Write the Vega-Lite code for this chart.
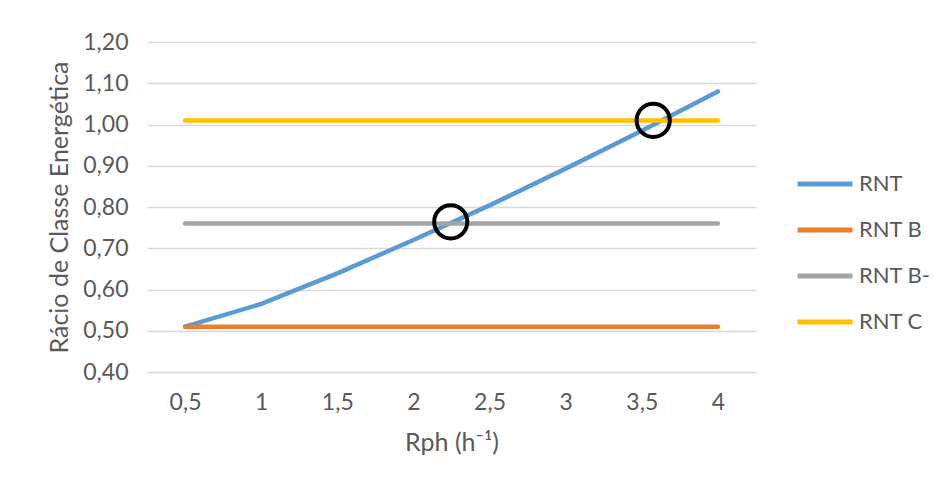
{
  "$schema": "https://vega.github.io/schema/vega-lite/v6.json",
  "width": 609,
  "height": 330,
  "autosize": {"type": "none"},
  "padding": {"left": 147, "top": 42, "right": 178, "bottom": 112},
  "background": "white",
  "config": {
    "view": {"stroke": null},
    "font": "Lato",
    "axis": {"labelFont": "Lato", "titleFont": "Lato", "labelColor": "#595959", "titleColor": "#595959", "titleFontWeight": "normal"},
    "legend": {"labelFont": "Lato"}
  },
  "datasets": {
    "lines": [
      {"rph": 0.5, "serie": "RNT", "racio": 0.51},
      {"rph": 1.0, "serie": "RNT", "racio": 0.565},
      {"rph": 1.5, "serie": "RNT", "racio": 0.639},
      {"rph": 2.0, "serie": "RNT", "racio": 0.72},
      {"rph": 2.5, "serie": "RNT", "racio": 0.804},
      {"rph": 3.0, "serie": "RNT", "racio": 0.893},
      {"rph": 3.5, "serie": "RNT", "racio": 0.985},
      {"rph": 4.0, "serie": "RNT", "racio": 1.08},
      {"rph": 0.5, "serie": "RNT B", "racio": 0.51},
      {"rph": 1.0, "serie": "RNT B", "racio": 0.51},
      {"rph": 1.5, "serie": "RNT B", "racio": 0.51},
      {"rph": 2.0, "serie": "RNT B", "racio": 0.51},
      {"rph": 2.5, "serie": "RNT B", "racio": 0.51},
      {"rph": 3.0, "serie": "RNT B", "racio": 0.51},
      {"rph": 3.5, "serie": "RNT B", "racio": 0.51},
      {"rph": 4.0, "serie": "RNT B", "racio": 0.51},
      {"rph": 0.5, "serie": "RNT B-", "racio": 0.76},
      {"rph": 1.0, "serie": "RNT B-", "racio": 0.76},
      {"rph": 1.5, "serie": "RNT B-", "racio": 0.76},
      {"rph": 2.0, "serie": "RNT B-", "racio": 0.76},
      {"rph": 2.5, "serie": "RNT B-", "racio": 0.76},
      {"rph": 3.0, "serie": "RNT B-", "racio": 0.76},
      {"rph": 3.5, "serie": "RNT B-", "racio": 0.76},
      {"rph": 4.0, "serie": "RNT B-", "racio": 0.76},
      {"rph": 0.5, "serie": "RNT C", "racio": 1.01},
      {"rph": 1.0, "serie": "RNT C", "racio": 1.01},
      {"rph": 1.5, "serie": "RNT C", "racio": 1.01},
      {"rph": 2.0, "serie": "RNT C", "racio": 1.01},
      {"rph": 2.5, "serie": "RNT C", "racio": 1.01},
      {"rph": 3.0, "serie": "RNT C", "racio": 1.01},
      {"rph": 3.5, "serie": "RNT C", "racio": 1.01},
      {"rph": 4.0, "serie": "RNT C", "racio": 1.01}
    ],
    "circles": [
      {"rph": 2.245, "racio": 0.764},
      {"rph": 3.575, "racio": 1.01}
    ]
  },
  "layer": [
    {
      "data": {"name": "lines"},
      "mark": {"type": "line", "strokeWidth": 4.5, "strokeCap": "round", "strokeJoin": "round"},
      "encoding": {
        "x": {
          "field": "rph", "type": "quantitative",
          "scale": {"domain": [0.25, 4.25], "nice": false, "zero": false},
          "axis": {
            "values": [0.5, 1, 1.5, 2, 2.5, 3, 3.5, 4],
            "labelExpr": "replace(toString(datum.value), '.', ',')",
            "grid": false, "domain": false, "ticks": false,
            "labelFontSize": 23, "labelPadding": 19,
            "title": "Rph (h⁻¹)", "titleFontSize": 25, "titlePadding": 16
          }
        },
        "y": {
          "field": "racio", "type": "quantitative",
          "scale": {"domain": [0.4, 1.2], "nice": false, "zero": false},
          "axis": {
            "values": [0.4, 0.5, 0.6, 0.7, 0.8, 0.9, 1.0, 1.1, 1.2],
            "labelExpr": "replace(format(datum.value, '.2f'), '.', ',')",
            "grid": true, "gridColor": "#d9d9d9", "gridWidth": 1.5,
            "domain": false, "ticks": false,
            "labelFontSize": 23, "labelPadding": 19,
            "title": "Rácio de Classe Energética", "titleFontSize": 25, "titlePadding": 10
          }
        },
        "color": {
          "field": "serie", "type": "nominal",
          "scale": {"domain": ["RNT", "RNT B", "RNT B-", "RNT C"], "range": ["#5B9BD5", "#ED7D31", "#A5A5A5", "#FFC000"]},
          "legend": {
            "title": null, "orient": "none", "legendX": 648, "legendY": 112,
            "symbolType": "stroke", "symbolSize": 3025, "symbolStrokeWidth": 5,
            "labelFontSize": 22, "labelColor": "#595959", "labelOffset": 4,
            "rowPadding": 5
          }
        },
        "order": {"field": "serie"}
      }
    },
    {
      "data": {"name": "circles"},
      "mark": {"type": "point", "shape": "circle", "filled": false, "stroke": "black", "strokeWidth": 4, "size": 1100, "opacity": 1},
      "encoding": {
        "x": {"field": "rph", "type": "quantitative"},
        "y": {"field": "racio", "type": "quantitative"}
      }
    }
  ]
}
